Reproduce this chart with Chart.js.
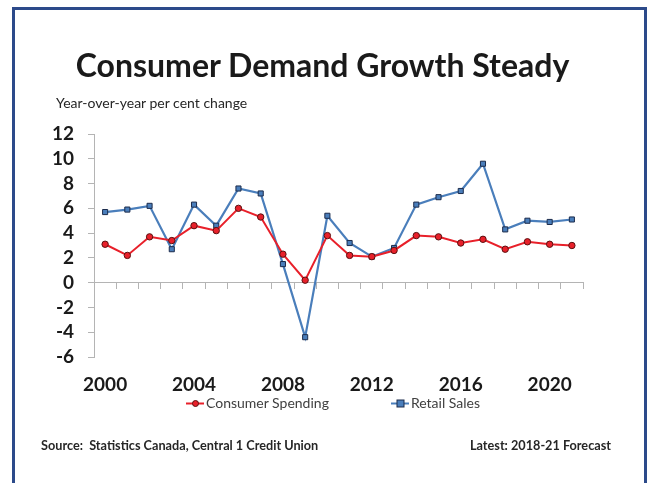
<!DOCTYPE html>
<html>
<head>
<meta charset="utf-8">
<script src="https://cdn.jsdelivr.net/npm/chart.js@4.4.1/dist/chart.umd.min.js"></script>
<style>
    body { margin: 0; background: #fff; font-family: Lato, sans-serif; }
    #wrap { position: relative; width: 652px; height: 483px; overflow: hidden; }
    #frame { position: absolute; left: 12px; top: 7px; width: 629px; height: 520px; border: 3px solid #2c4a8a; border-bottom: none; }
    #chart { position: absolute; left: 0; top: 0; }
    .title { position: absolute; left: 0; width: 645px; top: 47px; line-height: 36px; text-align: center; font-size: 32px; font-weight: bold; color: #1a1a1a; }
    .subtitle { position: absolute; left: 56px; top: 94px; font-size: 14px; color: #262626; }
    #legend { position: absolute; left: 186px; top: 393px; height: 20px; display: flex; gap: 62px; font-size: 14px; line-height: 20px; color: #404040; }
    #legend span { display: flex; align-items: center; }
    #legend svg { margin-right: 2px; }
    .note { position: absolute; top: 438px; font-size: 12.7px; line-height: 14px; font-weight: bold; color: #262626; white-space: pre; }
</style>
</head>
<body>
<div id="wrap">
    <div id="frame"></div>
    <canvas id="chart" width="652" height="483"></canvas>
    <div class="title">Consumer Demand Growth Steady</div>
    <div class="subtitle">Year-over-year per cent change</div>
    <div id="legend"></div>
    <div class="note" style="left:41px">Source:  Statistics Canada, Central 1 Credit Union</div>
    <div class="note" style="right:41px">Latest: 2018-21 Forecast</div>
</div>
<script>
const years = [2000, 2001, 2002, 2003, 2004, 2005, 2006, 2007, 2008, 2009, 2010,
    2011, 2012, 2013, 2014, 2015, 2016, 2017, 2018, 2019, 2020, 2021]
const yearLabels = [2000, 2004, 2008, 2012, 2016, 2020]
const consumerSpending = [3.1, 2.2, 3.7, 3.4, 4.6, 4.2, 6.0, 5.3, 2.3, 0.2, 3.8,
    2.2, 2.1, 2.6, 3.8, 3.7, 3.2, 3.5, 2.7, 3.3, 3.1, 3.0]
const retailSales = [5.7, 5.9, 6.2, 2.7, 6.3, 4.6, 7.6, 7.2, 1.5, -4.4, 5.4,
    3.2, 2.1, 2.8, 6.3, 6.9, 7.4, 9.6, 4.3, 5.0, 4.9, 5.1]
const yTicks = [-6, -4, -2, 0, 2, 4, 6, 8, 10, 12]

const RED = '#e8202a'
const BLUE = '#4a7ebb'
const AXIS = '#b4b4b4'

Chart.defaults.font.family = 'Lato, sans-serif'
Chart.defaults.color = '#1a1a1a'

const chart = new Chart(document.getElementById('chart'), {
    type: 'line',
    data: {
        labels: years,
        datasets: [{
            label: 'Consumer Spending',
            data: consumerSpending,
            borderColor: RED,
            borderWidth: 2,
            pointStyle: 'circle',
            pointRadius: 3.2,
            pointBackgroundColor: RED,
            pointBorderColor: '#5a1010',
            pointBorderWidth: 1,
            tension: 0
        }, {
            label: 'Retail Sales',
            data: retailSales,
            borderColor: BLUE,
            borderWidth: 2.2,
            pointStyle: 'rect',
            pointRadius: 3.6,
            pointBackgroundColor: BLUE,
            pointBorderColor: '#1c2c4c',
            pointBorderWidth: 1,
            tension: 0
        }]
    },
    options: {
        responsive: false,
        animation: false,
        layout: { padding: { left: 44, right: 69, top: 134, bottom: 86 } },
        plugins: { legend: { display: false }, tooltip: { enabled: false } },
        scales: {
            x: {
                type: 'category',
                position: { y: 0 },
                offset: true,
                grid: { offset: true, drawOnChartArea: false, drawTicks: true, tickLength: 6, color: AXIS },
                border: { color: AXIS, width: 1 },
                ticks: { display: false, autoSkip: false }
            },
            x2: {
                type: 'category',
                position: 'bottom',
                offset: true,
                grid: { display: false, drawTicks: false },
                border: { display: false },
                ticks: {
                    autoSkip: false,
                    maxRotation: 0,
                    padding: 16,
                    font: { size: 19, weight: 'bold' },
                    callback: (val, i) => yearLabels.includes(years[i]) ? String(years[i]) : ''
                },
                afterFit: scale => { scale.height = 40 }
            },
            y: {
                min: yTicks[0],
                max: yTicks[yTicks.length - 1],
                grid: { drawOnChartArea: false, drawTicks: true, tickLength: 6, color: AXIS },
                border: { color: AXIS, width: 1 },
                ticks: {
                    stepSize: 2,
                    autoSkip: false,
                    padding: 14,
                    font: { size: 19, weight: 'bold' }
                },
                afterFit: scale => { scale.width = 50 }
            }
        }
    }
})

// legend built from the datasets
function legendIcon(ds) {
    const marker = ds.pointStyle === 'rect'
        ? `<rect x="6" y="6" width="7" height="7" fill="${ds.pointBackgroundColor}" stroke="${ds.pointBorderColor}" stroke-width="1"/>`
        : `<circle cx="9.5" cy="9.5" r="3" fill="${ds.pointBackgroundColor}" stroke="${ds.pointBorderColor}" stroke-width="1"/>`
    return `<svg width="18" height="19"><line x1="0" y1="9.5" x2="18" y2="9.5" stroke="${ds.borderColor}" stroke-width="2"/>${marker}</svg>`
}

const legendEl = document.getElementById('legend')
chart.data.datasets.forEach(ds => {
    const item = document.createElement('span')
    item.innerHTML = legendIcon(ds) + ds.label
    legendEl.appendChild(item)
})
</script>
</body>
</html>
